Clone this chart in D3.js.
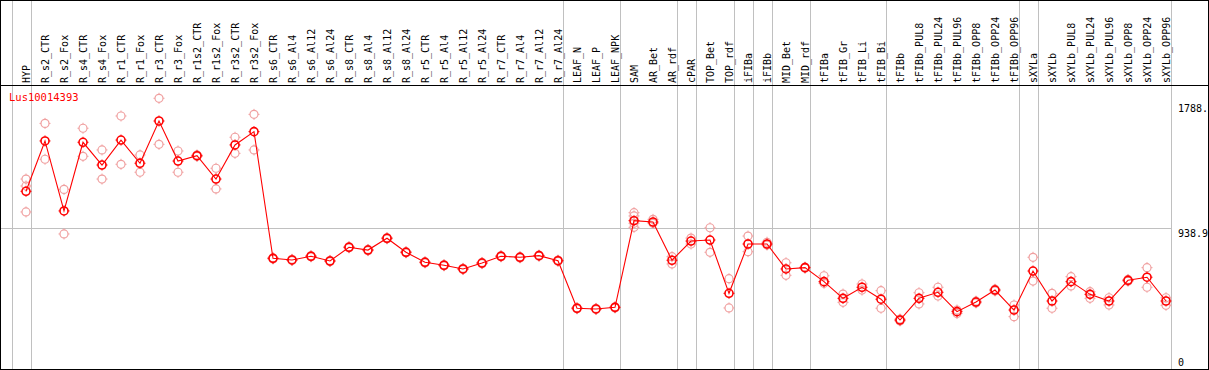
<!DOCTYPE html>
<html>
<head>
<meta charset="utf-8">
<script src="https://cdn.jsdelivr.net/npm/d3@7"></script>
<style>
  body { margin: 0; background: #fff; }
  svg { display: block; }
</style>
</head>
<body>
<div id="chart"></div>
<script>
var geneName = "Lus10014393";

var categories = ["HYP", "R_s2_CTR", "R_s2_Fox", "R_s4_CTR", "R_s4_Fox", "R_r1_CTR", "R_r1_Fox",
    "R_r3_CTR", "R_r3_Fox", "R_r1s2_CTR", "R_r1s2_Fox", "R_r3s2_CTR", "R_r3s2_Fox",
    "R_s6_CTR", "R_s6_Al4", "R_s6_Al12", "R_s6_Al24", "R_s8_CTR", "R_s8_Al4", "R_s8_Al12", "R_s8_Al24",
    "R_r5_CTR", "R_r5_Al4", "R_r5_Al12", "R_r5_Al24", "R_r7_CTR", "R_r7_Al4", "R_r7_Al12", "R_r7_Al24",
    "LEAF_N", "LEAF_P", "LEAF_NPK", "SAM", "AR_Bet", "AR_rdf", "cPAR", "TOP_Bet", "TOP_rdf",
    "iFIBa", "iFIBb", "MID_Bet", "MID_rdf", "tFIBa", "tFIB_Gr", "tFIB_Li", "tFIB_Bi",
    "tFIBb", "tFIBb_PUL8", "tFIBb_PUL24", "tFIBb_PUL96", "tFIBb_OPP8", "tFIBb_OPP24", "tFIBb_OPP96",
    "sXYLa", "sXYLb", "sXYLb_PUL8", "sXYLb_PUL24", "sXYLb_PUL96", "sXYLb_OPP8", "sXYLb_OPP24", "sXYLb_OPP96"];

// mean expression per sample
var means = [1190, 1531, 1057, 1522, 1368, 1537, 1380,
    1666, 1395, 1431, 1273, 1504, 1594,
    736, 725, 750, 718, 811, 792, 872, 777,
    709, 689, 664, 704, 750, 743, 754, 720,
    398, 393, 404, 991, 982, 723, 853, 860, 499,
    833, 833, 664, 673, 578, 465, 540, 459,
    318, 465, 506, 375, 440, 521, 386,
    650, 447, 578, 492, 447, 587, 608, 447];

// replicate values per sample
var replicates = [[1273, 1226, 1050], [1650, 1407], [1203, 901], [1617, 1427], [1470, 1273], [1700, 1373], [1436, 1319],
    [1820, 1508], [1463, 1319], [1436, 1426], [1346, 1206], [1556, 1447], [1711, 1470],
    [740, 732], [729, 721], [754, 746], [722, 714], [815, 807], [796, 788], [876, 868], [781, 773],
    [713, 705], [693, 685], [668, 660], [708, 700], [754, 746], [747, 739], [758, 750], [724, 716],
    [402, 394], [397, 389], [408, 400], [1045, 1023, 973, 946], [1000, 973], [747, 698], [873, 833], [943, 777], [598, 400],
    [887, 781], [845, 826], [706, 621], [677, 669], [618, 567], [494, 438], [562, 521], [517, 398],
    [325, 312], [503, 427], [540, 481], [386, 362], [446, 434], [527, 515], [420, 341],
    [743, 582], [499, 398], [612, 549], [510, 465], [469, 420], [593, 581], [673, 540], [469, 418]];

// a grey separator is drawn after each of these samples (and before the first one)
var groupEnds = ["HYP", "R_r7_Al24", "LEAF_NPK", "AR_rdf", "cPAR", "TOP_rdf", "iFIBa", "iFIBb",
    "MID_rdf", "tFIB_Bi", "tFIBb_OPP96", "sXYLa", "sXYLb_OPP96"];

var axisTicks = [1788, 938.9, 0];
var axisLabels = ["1788.", "938.9", "0"];

var width = 1209, height = 370;
var headerY = 85.5;
var font = "'DejaVu Sans Mono', monospace";

var svg = d3.select("#chart")
    .append("svg")
    .attr("width", width)
    .attr("height", height);

var x = d3.scalePoint().domain(categories).range([26, 1166]);
var y = d3.scaleLinear().domain([0, 1788]).range([367, 103]);
var step = x.step();

// separators
var sepX = [x(categories[0]) - step + 4.5].concat(groupEnds.map(function (c) { return x(c) + 4.5; }));
svg.selectAll(".sep")
    .data(sepX)
    .enter()
    .append("line")
    .attr("x1", function (d) { return Math.round(d) + 0.5; })
    .attr("x2", function (d) { return Math.round(d) + 0.5; })
    .attr("y1", 0)
    .attr("y2", height)
    .attr("stroke", "#c0c0c0")
    .attr("stroke-width", 1);

// mid grid line
svg.append("line")
    .attr("x1", 0)
    .attr("x2", Math.round(sepX[sepX.length - 1]) + 0.5)
    .attr("y1", Math.round(y(938.9)) + 0.5)
    .attr("y2", Math.round(y(938.9)) + 0.5)
    .attr("stroke", "#c0c0c0");

// frame and header line
svg.append("rect")
    .attr("x", 0.5).attr("y", 0.5)
    .attr("width", width - 1).attr("height", height - 1)
    .attr("fill", "none")
    .attr("stroke", "#000");
svg.append("line")
    .attr("x1", 0).attr("x2", width)
    .attr("y1", headerY).attr("y2", headerY)
    .attr("stroke", "#000");

// sample labels
svg.selectAll(".lab")
    .data(categories)
    .enter()
    .append("text")
    .attr("transform", function (d) { return "translate(" + (x(d) + 4) + ",83) rotate(-90)"; })
    .attr("font-family", font)
    .attr("font-size", "10px")
    .attr("fill", "#000")
    .text(function (d) { return d; });

// right axis labels
svg.selectAll(".tick")
    .data(axisTicks)
    .enter()
    .append("text")
    .attr("x", 1178)
    .attr("y", function (d) { return Math.min(y(d) + 8.5, 366); })
    .attr("font-family", font)
    .attr("font-size", "10px")
    .attr("fill", "#000")
    .text(function (d, i) { return axisLabels[i]; });

svg.append("text")
    .attr("x", 9)
    .attr("y", 101)
    .attr("font-family", font)
    .attr("font-size", "10.5px")
    .attr("fill", "#ff0000")
    .text(geneName);

function marker(g, cx, cy, color, sw) {
    g.append("circle")
        .attr("cx", cx).attr("cy", cy).attr("r", 4)
        .attr("fill", "none")
        .attr("stroke", color)
        .attr("stroke-width", sw);
    [[0, -1], [0, 1], [-1, 0], [1, 0]].forEach(function (d) {
        g.append("line")
            .attr("x1", cx + d[0] * 4).attr("y1", cy + d[1] * 4)
            .attr("x2", cx + d[0] * 5.5).attr("y2", cy + d[1] * 5.5)
            .attr("stroke", color)
            .attr("stroke-width", 1);
    });
}

// replicates
var repG = svg.append("g");
categories.forEach(function (c, i) {
    replicates[i].forEach(function (v) {
        marker(repG, x(c), y(v), "#f0a0a0", 1.2);
    });
});

// mean line
var line = d3.line()
    .x(function (d, i) { return x(categories[i]); })
    .y(function (d) { return y(d); });

svg.append("path")
    .datum(means)
    .attr("d", line)
    .attr("fill", "none")
    .attr("stroke", "#ff0000")
    .attr("stroke-width", 1.1);

var meanG = svg.append("g");
categories.forEach(function (c, i) {
    marker(meanG, x(c), y(means[i]), "#ff0000", 1.6);
});
</script>
</body>
</html>
